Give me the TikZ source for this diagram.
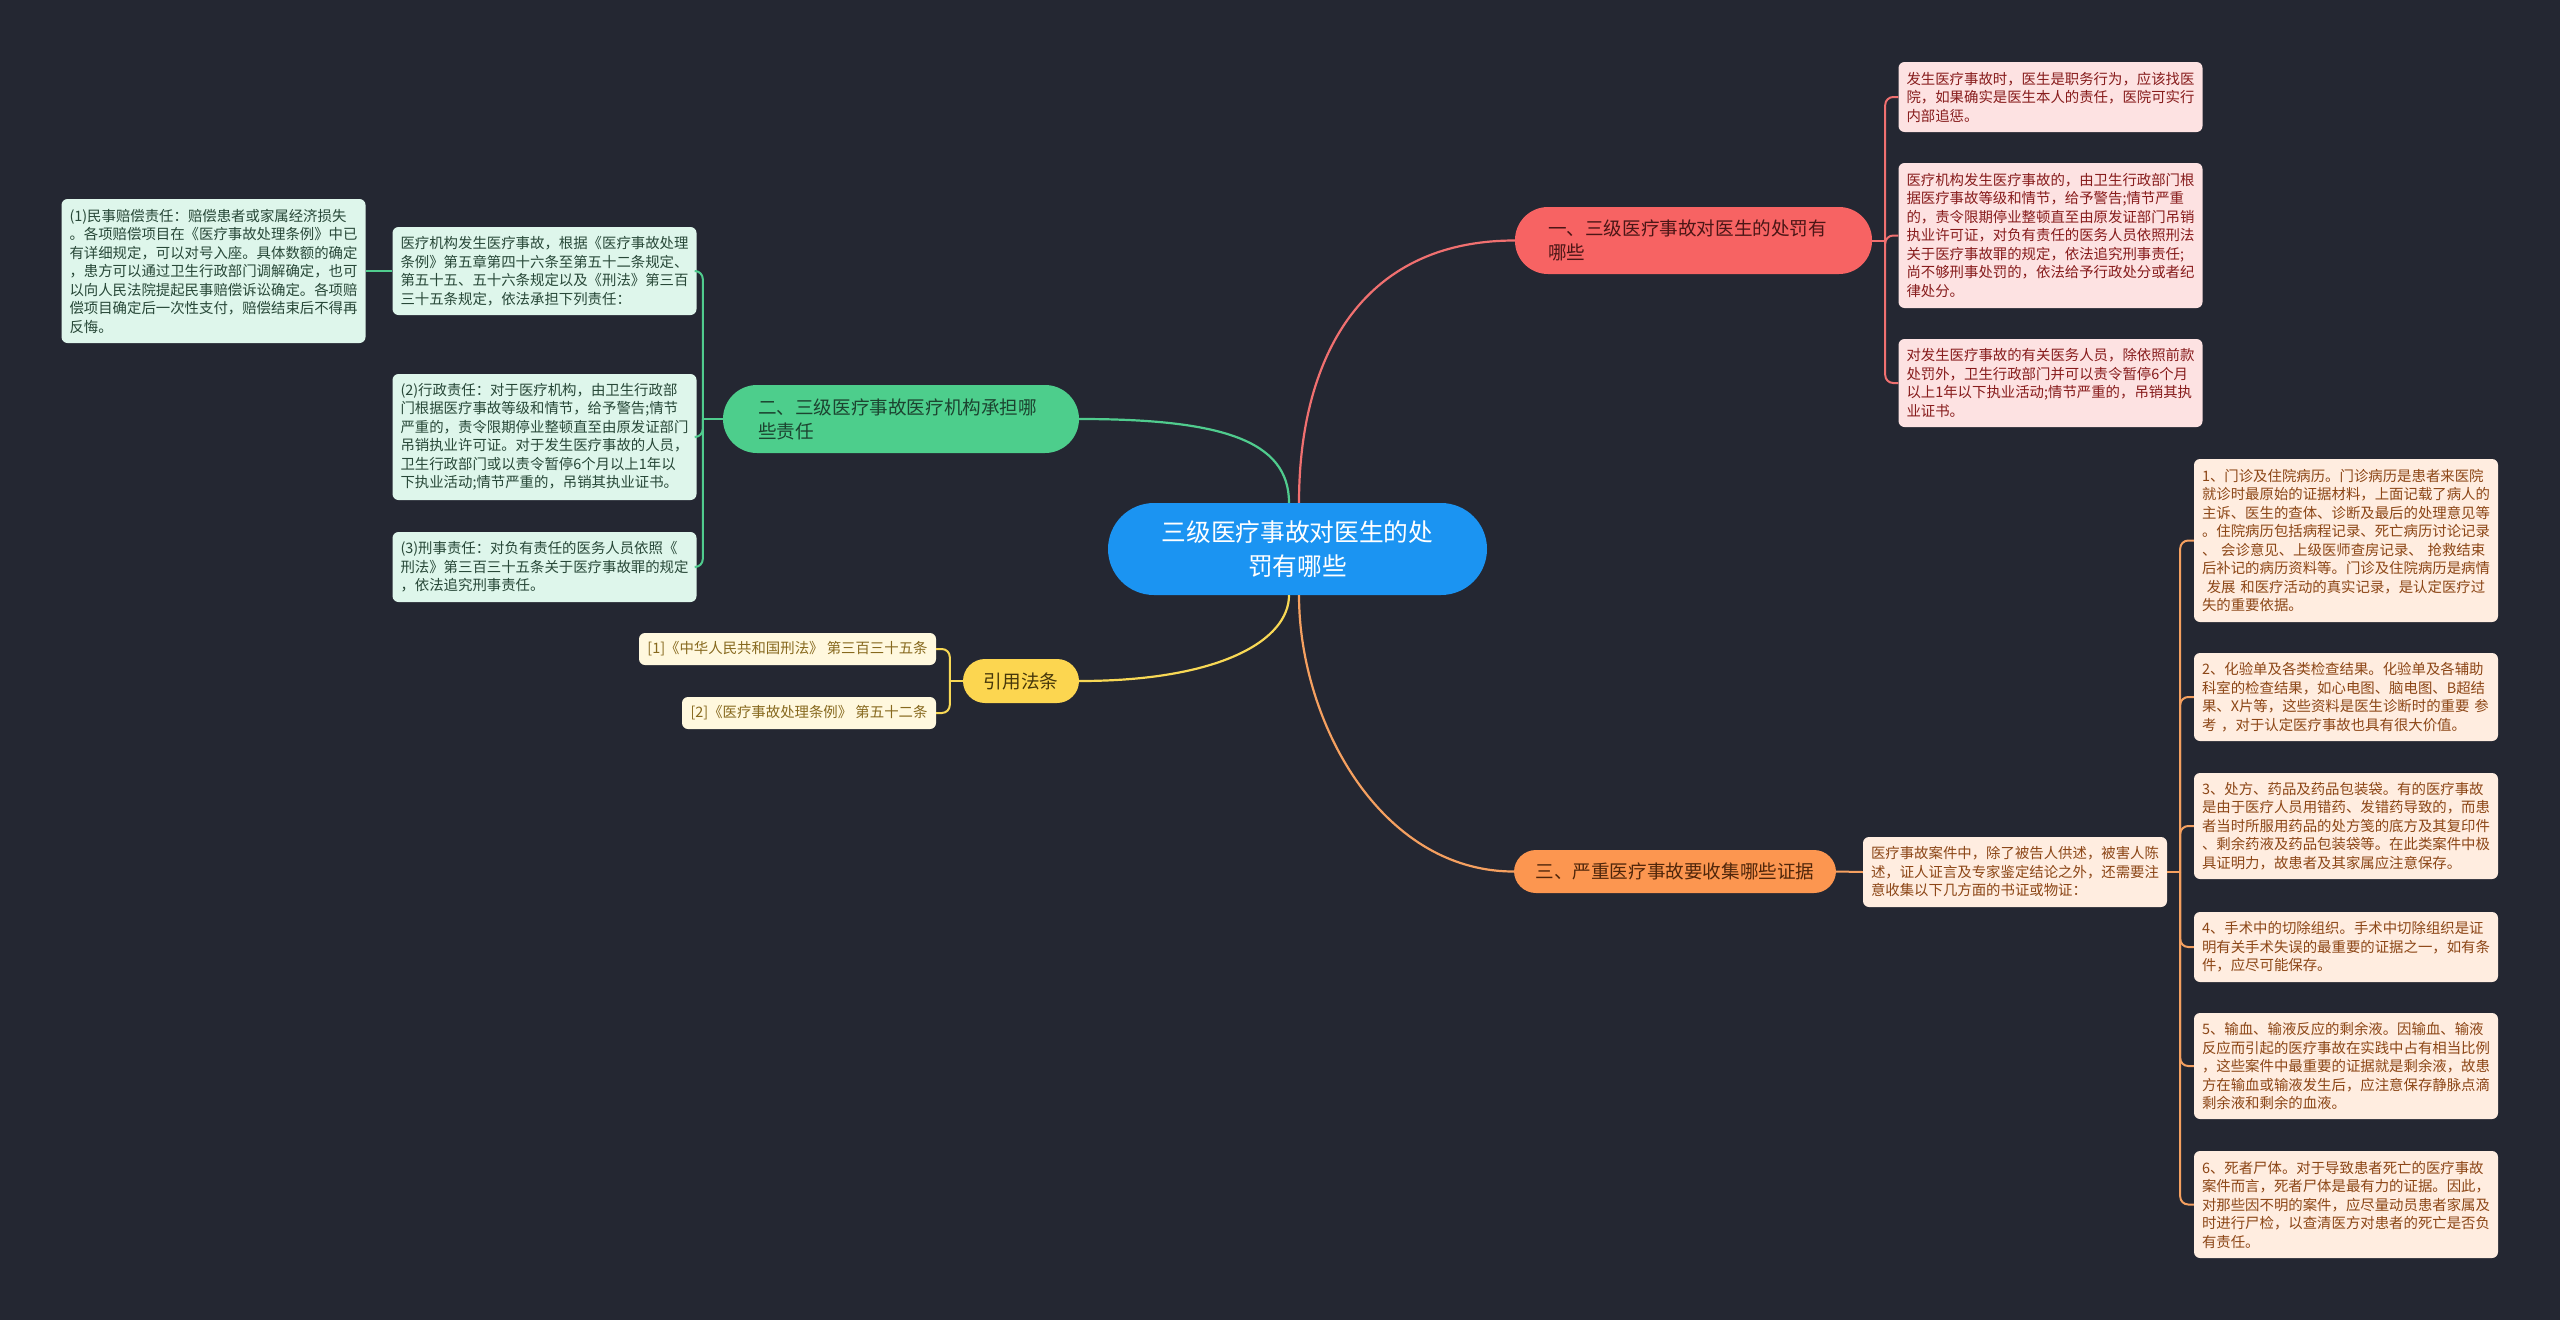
\documentclass[tikz,border=0pt]{standalone}
\usepackage{fontspec}
\setmainfont{Noto Sans CJK SC}
\definecolor{bg}{RGB}{36,39,50}
\definecolor{cblue}{RGB}{27,148,242}
\definecolor{rnode}{RGB}{247,99,99}
\definecolor{rleaf}{RGB}{253,226,226}
\definecolor{rtext}{RGB}{135,28,28}
\definecolor{rline}{RGB}{240,112,112}
\definecolor{gnode}{RGB}{77,206,140}
\definecolor{gleaf}{RGB}{222,246,235}
\definecolor{gtext}{RGB}{40,72,56}
\definecolor{gline}{RGB}{80,204,142}
\definecolor{ynode}{RGB}{252,214,80}
\definecolor{yleaf}{RGB}{255,248,222}
\definecolor{ytext}{RGB}{135,105,30}
\definecolor{yline}{RGB}{248,216,85}
\definecolor{onode}{RGB}{252,150,80}
\definecolor{oleaf}{RGB}{255,237,224}
\definecolor{otext}{RGB}{140,70,22}
\definecolor{oline}{RGB}{245,160,96}
\newcommand\myleaffont{\fontsize{14.4pt}{18.5pt}\selectfont}
\newcommand\mymainfont{\fontsize{18.6pt}{24pt}\selectfont}
\newcommand\mycenterfont{\fontsize{24.7pt}{34pt}\selectfont}
\begin{document}
\begin{tikzpicture}[x=1pt,y=-1pt,
  leaf/.style={rounded corners=6pt, inner xsep=8pt, inner ysep=0pt, text width=288pt, align=left, font=\myleaffont},
  rleafbox/.style={leaf, fill=rleaf, text=rtext},
  gleafbox/.style={leaf, fill=gleaf, text=gtext},
  oleafbox/.style={leaf, fill=oleaf, text=otext},
  yleafbox/.style={rounded corners=6pt, inner xsep=7pt, inner ysep=0pt, align=center, font=\myleaffont, fill=yleaf, text=ytext},
  mainbox/.style={inner ysep=0pt, font=\mymainfont},
  conn/.style={line width=2.2pt},
  brace/.style={line width=2pt, rounded corners=8pt}
]
\useasboundingbox[fill=bg] (0,0) rectangle (2560,1320);

% central
\node[fill=cblue, text=white, rounded corners=46pt, minimum width=379pt, minimum height=92pt, inner ysep=0pt, align=center, font=\mycenterfont] (c) at (1297.5,549) {三级医疗事故对医生的处\\罚有哪些};

% main branches
\node[mainbox, fill=rnode, text={rgb,255:red,75;green,22;blue,22}, rounded corners=33pt, minimum height=67pt, inner xsep=33pt, text width=291pt, align=left] (r) at (1693.5,240.5) {一、三级医疗事故对医生的处罚有\\哪些};
\node[mainbox, fill=gnode, text={rgb,255:red,28;green,68;blue,48}, rounded corners=34pt, minimum height=68pt, inner xsep=35pt, text width=286pt, align=left] (g) at (901,419) {二、三级医疗事故医疗机构承担哪\\些责任};
\node[mainbox, fill=ynode, text={rgb,255:red,70;green,55;blue,10}, rounded corners=22pt, minimum height=44pt, minimum width=116pt, align=center] (y) at (1021,681) {引用法条};
\node[mainbox, fill=onode, text={rgb,255:red,80;green,38;blue,10}, rounded corners=22pt, minimum height=43pt, minimum width=322pt, align=center] (o) at (1675,871.5) {三、严重医疗事故要收集哪些证据};

% red leaves
\node[rleafbox, minimum height=70pt] (r1) at (2050.5,97) {发生医疗事故时，医生是职务行为，应该找医\\院，如果确实是医生本人的责任，医院可实行\\内部追惩。};
\node[rleafbox, minimum height=145pt] (r2) at (2050.5,235.5) {医疗机构发生医疗事故的，由卫生行政部门根\\据医疗事故等级和情节，给予警告;情节严重\\的，责令限期停业整顿直至由原发证部门吊销\\执业许可证，对负有责任的医务人员依照刑法\\关于医疗事故罪的规定，依法追究刑事责任;\\尚不够刑事处罚的，依法给予行政处分或者纪\\律处分。};
\node[rleafbox, minimum height=88pt] (r3) at (2050.5,383) {对发生医疗事故的有关医务人员，除依照前款\\处罚外，卫生行政部门并可以责令暂停6个月\\以上1年以下执业活动;情节严重的，吊销其执\\业证书。};

% green leaves
\node[gleafbox, minimum height=144pt] (g0) at (213.5,271) {(1)民事赔偿责任：赔偿患者或家属经济损失\\。各项赔偿项目在《医疗事故处理条例》中已\\有详细规定，可以对号入座。具体数额的确定\\，患方可以通过卫生行政部门调解确定，也可\\以向人民法院提起民事赔偿诉讼确定。各项赔\\偿项目确定后一次性支付，赔偿结束后不得再\\反悔。};
\node[gleafbox, minimum height=88pt] (g1) at (544.5,271) {医疗机构发生医疗事故，根据《医疗事故处理\\条例》第五章第四十六条至第五十二条规定、\\第五十五、五十六条规定以及《刑法》第三百\\三十五条规定，依法承担下列责任：};
\node[gleafbox, minimum height=126pt] (g2) at (544.5,437) {(2)行政责任：对于医疗机构，由卫生行政部\\门根据医疗事故等级和情节，给予警告;情节\\严重的，责令限期停业整顿直至由原发证部门\\吊销执业许可证。对于发生医疗事故的人员，\\卫生行政部门或以责令暂停6个月以上1年以\\下执业活动;情节严重的，吊销其执业证书。};
\node[gleafbox, minimum height=70pt] (g3) at (544.5,567) {(3)刑事责任：对负有责任的医务人员依照《\\刑法》第三百三十五条关于医疗事故罪的规定\\，依法追究刑事责任。};

% yellow leaves
\node[yleafbox, minimum height=32pt, minimum width=297pt] (y1) at (787.5,649) {[1]《中华人民共和国刑法》 第三百三十五条};
\node[yleafbox, minimum height=32pt, minimum width=254pt] (y2) at (809,713) {[2]《医疗事故处理条例》 第五十二条};

% orange intermediate and leaves
\node[oleafbox, minimum height=70pt] (oi) at (2015,872) {医疗事故案件中，除了被告人供述，被害人陈\\述，证人证言及专家鉴定结论之外，还需要注\\意收集以下几方面的书证或物证：};
\node[oleafbox, minimum height=163pt] (o1) at (2346,540.5) {1、门诊及住院病历。门诊病历是患者来医院\\就诊时最原始的证据材料，上面记载了病人的\\主诉、医生的查体、诊断及最后的处理意见等\\。住院病历包括病程记录、死亡病历讨论记录\\、 会诊意见、上级医师查房记录、 抢救结束\\后补记的病历资料等。门诊及住院病历是病情\\\mbox{} 发展 和医疗活动的真实记录，是认定医疗过\\失的重要依据。};
\node[oleafbox, minimum height=88pt] (o2) at (2346,697) {2、化验单及各类检查结果。化验单及各辅助\\科室的检查结果，如心电图、脑电图、B超结\\果、X片等，这些资料是医生诊断时的重要 参\\考 ，对于认定医疗事故也具有很大价值。};
\node[oleafbox, minimum height=106pt] (o3) at (2346,826) {3、处方、药品及药品包装袋。有的医疗事故\\是由于医疗人员用错药、发错药导致的，而患\\者当时所服用药品的处方笺的底方及其复印件\\、剩余药液及药品包装袋等。在此类案件中极\\具证明力，故患者及其家属应注意保存。};
\node[oleafbox, minimum height=70pt] (o4) at (2346,947) {4、手术中的切除组织。手术中切除组织是证\\明有关手术失误的最重要的证据之一，如有条\\件，应尽可能保存。};
\node[oleafbox, minimum height=106pt] (o5) at (2346,1066) {5、输血、输液反应的剩余液。因输血、输液\\反应而引起的医疗事故在实践中占有相当比例\\，这些案件中最重要的证据就是剩余液，故患\\方在输血或输液发生后，应注意保存静脉点滴\\剩余液和剩余的血液。};
\node[oleafbox, minimum height=107pt] (o6) at (2346,1204.5) {6、死者尸体。对于导致患者死亡的医疗事故\\案件而言，死者尸体是最有力的证据。因此，\\对那些因不明的案件，应尽量动员患者家属及\\时进行尸检，以查清医方对患者的死亡是否负\\有责任。};

% main connectors
\draw[conn, rline] ([xshift=1.5pt]c.north) .. controls +(0,-143) and +(-155,0) .. (r.west);
\draw[conn, gline] ([xshift=-8.5pt]c.north) .. controls +(0,-63) and +(141,0) .. (g.east);
\draw[conn, yline] ([xshift=-8.5pt]c.south) .. controls +(0,45) and +(141,0) .. (y.east);
\draw[conn, oline] ([xshift=1.5pt]c.south) .. controls +(0,125) and +(-134,0) .. (o.west);

% red brace
\path (r.east) ++(13,0) coordinate (rj);
\draw[brace, rline] (r.east) -- (rj);
\foreach \n in {r1,r2,r3} \draw[brace, rline] (rj) |- (\n.west);

% green brace
\path (g.west) ++(-20,0) coordinate (gj);
\draw[brace, gline] (g.west) -- (gj);
\foreach \n in {g1,g2,g3} \draw[brace, gline] (gj) |- (\n.east);
\draw[brace, gline] (g1.west) -- (g0.east);

% yellow brace
\path (y.west) ++(-13,0) coordinate (yj);
\draw[brace, yline] (y.west) -- (yj);
\foreach \n in {y1,y2} \draw[brace, yline] (yj) |- (\n.east);

% orange brace
\draw[brace, oline] (o.east) -- (oi.west);
\path (oi.east) ++(13,0) coordinate (oj);
\draw[brace, oline] (oi.east) -- (oj);
\foreach \n in {o1,o2,o3,o4,o5,o6} \draw[brace, oline] (oj) |- (\n.west);
\end{tikzpicture}
\end{document}
